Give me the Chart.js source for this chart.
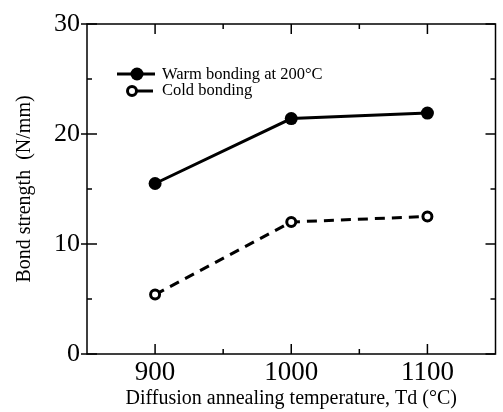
<!DOCTYPE html>
<html>
<head>
<meta charset="utf-8">
<script src="https://cdn.jsdelivr.net/npm/chart.js@4"></script>
<style>
  body { margin: 0; background: #fff; }
</style>
</head>
<body>
<canvas id="chart" width="503" height="412"></canvas>
<script>
var temps = [900, 1000, 1100];
var warmBond = [15.5, 21.4, 21.9];
var coldBond = [5.4, 12.0, 12.5];

var xMajor = [900, 1000, 1100];
var xMinor = [950, 1050];
var yMajor = [0, 10, 20, 30];
var yMinor = [5, 15, 25];

var serif = "'Liberation Serif', 'DejaVu Serif', serif";

// inward ticks on all four sides, plus the frame
var frameTicks = {
  id: 'frameTicks',
  afterDraw: function (chart) {
    var ctx = chart.ctx, a = chart.chartArea;
    var x = chart.scales.x, y = chart.scales.y;
    ctx.save();
    ctx.strokeStyle = '#000';
    ctx.lineWidth = 1.5;
    ctx.strokeRect(a.left, a.top, a.right - a.left, a.bottom - a.top);
    function seg(x1, y1, x2, y2) {
      ctx.beginPath(); ctx.moveTo(x1, y1); ctx.lineTo(x2, y2); ctx.stroke();
    }
    xMajor.forEach(function (v) {
      var px = x.getPixelForValue(v);
      seg(px, a.bottom, px, a.bottom - 10);
      seg(px, a.top, px, a.top + 10);
    });
    xMinor.forEach(function (v) {
      var px = x.getPixelForValue(v);
      seg(px, a.bottom, px, a.bottom - 5);
      seg(px, a.top, px, a.top + 5);
    });
    yMajor.forEach(function (v) {
      var py = y.getPixelForValue(v);
      seg(a.left - 6, py, a.left + 10, py);
      seg(a.right, py, a.right - 10, py);
    });
    yMinor.forEach(function (v) {
      var py = y.getPixelForValue(v);
      seg(a.left, py, a.left + 5, py);
      seg(a.right, py, a.right - 5, py);
    });
    ctx.restore();
  }
};

// legend drawn inside the plot, upper left
var innerLegend = {
  id: 'innerLegend',
  afterDraw: function (chart) {
    var ctx = chart.ctx, a = chart.chartArea;
    var lx = a.left + 30, ly = a.top + 50;
    ctx.save();
    ctx.strokeStyle = '#000';
    ctx.lineWidth = 3;
    ctx.beginPath(); ctx.moveTo(lx, ly); ctx.lineTo(lx + 38, ly); ctx.stroke();
    ctx.fillStyle = '#000';
    ctx.beginPath(); ctx.arc(lx + 20, ly, 6.5, 0, Math.PI * 2); ctx.fill();

    ctx.beginPath(); ctx.moveTo(lx + 10, ly + 17); ctx.lineTo(lx + 36, ly + 17); ctx.stroke();
    ctx.fillStyle = '#fff';
    ctx.beginPath(); ctx.arc(lx + 15, ly + 17, 4.5, 0, Math.PI * 2); ctx.fill(); ctx.stroke();

    ctx.fillStyle = '#000';
    ctx.font = "16.5px " + serif;
    ctx.textBaseline = 'middle';
    ctx.fillText(chart.data.datasets[0].label, lx + 45, ly + 1);
    ctx.fillText(chart.data.datasets[1].label, lx + 45, ly + 17);
    ctx.restore();
  }
};

new Chart(document.getElementById('chart'), {
  type: 'line',
  data: {
    datasets: [{
      label: 'Warm bonding at 200°C',
      data: temps.map(function (t, i) { return { x: t, y: warmBond[i] }; }),
      borderColor: '#000',
      backgroundColor: '#000',
      borderWidth: 3,
      pointRadius: 6.5,
      pointBorderWidth: 0,
      pointBackgroundColor: '#000'
    }, {
      label: 'Cold bonding',
      data: temps.map(function (t, i) { return { x: t, y: coldBond[i] }; }),
      borderColor: '#000',
      borderWidth: 3,
      borderDash: [10, 7],
      pointRadius: 4.5,
      pointBorderWidth: 3,
      pointBackgroundColor: '#fff',
      pointBorderColor: '#000'
    }]
  },
  options: {
    responsive: false,
    animation: false,
    layout: { padding: { top: 24, right: 6, bottom: 0, left: 0 } },
    plugins: {
      legend: { display: false },
      tooltip: { enabled: false }
    },
    scales: {
      x: {
        type: 'linear',
        min: 850,
        max: 1150,
        afterBuildTicks: function (s) { s.ticks = xMajor.map(function (v) { return { value: v }; }); },
        afterFit: function (s) { s.height = 58; },
        grid: { display: false, drawTicks: false },
        border: { display: false },
        ticks: {
          color: '#000', padding: 3, font: { family: serif, size: 27 },
          callback: function (v) { return String(v); }
        },
        title: {
          display: true,
          text: 'Diffusion annealing temperature, Td (°C)',
          color: '#000',
          font: { family: serif, size: 20 },
          padding: { top: 0, bottom: 1 }
        }
      },
      y: {
        min: 0,
        max: 30,
        afterBuildTicks: function (s) { s.ticks = yMajor.map(function (v) { return { value: v }; }); },
        afterFit: function (s) { s.width = 87; },
        grid: { display: false, drawTicks: false },
        border: { display: false },
        ticks: { color: '#000', padding: 7, font: { family: serif, size: 26 } },
        title: {
          display: true,
          text: 'Bond strength  (N/mm)',
          color: '#000',
          font: { family: serif, size: 20 },
          padding: { top: 13, bottom: 0 }
        }
      }
    }
  },
  plugins: [frameTicks, innerLegend]
});
</script>
</body>
</html>
